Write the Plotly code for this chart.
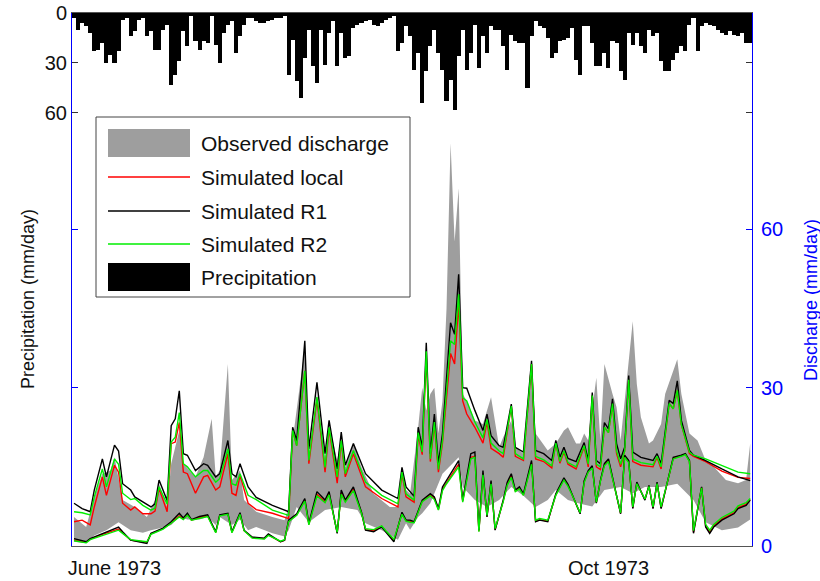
import pandas as pd
import plotly.graph_objects as go

# ---------------- data ----------------
start_date = "1973-05-22"

# daily precipitation (mm/day), one value per day from start_date
precip = [3, 10, 6, 8, 12, 23, 22, 18, 30, 25,
          30, 23, 4, 3, 14, 11, 4, 3, 14, 11,
          22, 22, 10, 7, 43, 37, 29, 11, 20, 2,
          17, 22, 17, 18, 2, 19, 30, 12, 7, 5,
          24, 14, 7, 3, 3, 5, 6, 6, 5, 4,
          3, 3, 2, 37, 16, 41, 51, 27, 10, 32,
          42, 10, 31, 12, 5, 32, 12, 27, 26, 9,
          7, 6, 5, 4, 7, 8, 6, 4, 3, 2,
          23, 18, 8, 14, 34, 24, 54, 35, 20, 10,
          24, 34, 53, 40, 58, 26, 10, 34, 24, 7,
          33, 14, 24, 8, 10, 10, 20, 34, 13, 17,
          18, 18, 45, 14, 5, 8, 9, 15, 27, 24,
          17, 16, 15, 9, 28, 37, 8, 8, 18, 32,
          32, 24, 33, 17, 18, 35, 40, 12, 19, 12,
          20, 24, 10, 14, 12, 29, 35, 35, 28, 24,
          20, 23, 7, 3, 23, 8, 6, 7, 8, 10,
          12, 13, 11, 13, 14, 12, 18, 18]

# upper simulated bounds (mm/day), day offsets from start_date
up_days = [0, 2, 4, 5, 7, 8, 10, 11, 12, 14,
           15, 17, 19, 20, 21, 23, 24, 25, 26, 27,
           28, 30, 32, 33, 35, 36, 38, 39, 40, 41,
           43, 45, 49, 53, 54, 55, 57, 58, 60, 62,
           63, 65, 66, 67, 69, 72, 76, 80, 81, 82,
           84, 85, 86, 87, 88, 89, 90, 91, 93, 94,
           95, 96, 97, 99, 101, 102, 103, 105, 106, 108,
           109, 111, 113, 114, 116, 118, 119, 120, 121, 122,
           124, 126, 127, 128, 129, 130, 131, 132, 133, 134,
           135, 136, 137, 138, 140, 143, 144, 145, 147, 148,
           149, 150, 152, 153, 156, 160, 164, 167]
r1_up = [8.1, 7.1, 6.5, 10.6, 16.5, 13.1, 19.1, 18.0, 11.8, 10.6,
         9.3, 8.4, 7.4, 8.0, 12.5, 8.6, 22.8, 24.1, 29.4, 17.5,
         17.2, 14.3, 15.6, 15.3, 13.1, 13.7, 20.0, 13.7, 13.1, 15.6,
         11.2, 9.2, 7.7, 6.5, 22.5, 20.0, 38.9, 18.4, 31.0, 17.5,
         23.8, 14.6, 21.6, 15.3, 19.4, 13.7, 10.6, 9.0, 14.9, 11.2,
         9.4, 22.5, 18.7, 38.5, 17.5, 25.0, 15.6, 21.3, 42.3, 40.1,
         51.5, 30.0, 29.9, 25.7, 21.9, 25.0, 20.9, 19.0, 18.7, 26.9,
         18.7, 17.8, 35.1, 18.1, 17.5, 16.2, 20.0, 16.8, 18.7, 16.6,
         16.0, 19.6, 16.2, 29.1, 16.2, 15.6, 23.4, 22.2, 27.9, 19.4,
         16.5, 18.7, 32.3, 17.8, 16.8, 16.2, 17.5, 15.6, 27.6, 27.0,
         31.3, 23.8, 18.1, 17.2, 16.2, 14.6, 13.1, 12.4]
r2_up = [6.5, 6.3, 5.9, 9.3, 14.6, 11.2, 16.5, 15.5, 10.0, 8.8,
         9.0, 7.7, 6.8, 7.2, 11.2, 7.9, 19.7, 20.6, 25.3, 15.6,
         15.0, 13.1, 14.3, 14.3, 12.1, 12.8, 18.4, 11.8, 11.5, 13.7,
         9.6, 8.8, 6.8, 5.8, 21.9, 19.0, 33.2, 16.2, 28.2, 14.9,
         22.5, 13.1, 20.0, 13.7, 18.1, 12.1, 9.6, 8.0, 14.0, 9.9,
         8.7, 21.5, 17.8, 36.9, 16.5, 23.5, 14.5, 20.0, 38.9, 38.2,
         47.7, 28.1, 27.5, 23.5, 20.5, 24.0, 19.5, 18.0, 17.5, 26.5,
         17.5, 16.5, 34.5, 17.0, 16.3, 15.2, 19.5, 16.0, 18.0, 15.8,
         15.0, 19.0, 15.5, 28.5, 15.5, 15.0, 22.5, 21.5, 27.0, 18.0,
         15.5, 18.0, 31.5, 16.5, 15.8, 15.4, 17.0, 15.0, 27.0, 26.0,
         29.5, 23.0, 17.8, 17.2, 16.5, 15.2, 14.0, 13.7]
local_up = [4.6, 4.9, 4.0, 7.4, 13.1, 9.6, 15.3, 14.0, 8.1, 6.8,
            7.4, 6.1, 6.1, 6.6, 10.9, 6.5, 19.4, 19.7, 23.4, 14.0,
            13.7, 10.0, 13.1, 13.4, 10.6, 11.2, 17.5, 10.0, 9.6, 13.4,
            8.1, 6.9, 6.2, 5.2, 21.9, 19.0, 33.2, 15.6, 27.8, 14.0,
            22.2, 11.9, 19.7, 13.1, 17.5, 11.2, 9.0, 7.4, 13.7, 9.3,
            8.3, 21.0, 17.3, 36.0, 16.0, 23.0, 14.0, 19.5, 36.5, 34.5,
            46.0, 27.5, 25.0, 22.5, 19.5, 23.5, 18.5, 17.5, 16.8, 26.5,
            17.0, 16.2, 34.5, 16.5, 16.0, 14.8, 19.5, 15.7, 17.8, 15.5,
            14.6, 18.8, 15.0, 28.5, 15.0, 14.5, 22.5, 21.5, 27.0, 17.5,
            15.0, 18.0, 31.5, 16.0, 15.3, 15.0, 16.8, 14.6, 27.0, 26.0,
            29.5, 23.0, 17.5, 17.0, 16.0, 14.2, 13.0, 12.8]

# lower simulated bounds (mm/day)
lo_days = [0, 3, 4, 7, 11, 12, 14, 16, 18, 19,
           22, 24, 26, 27, 28, 29, 31, 33, 35, 36,
           38, 39, 41, 42, 44, 47, 48, 51, 52, 53,
           55, 57, 58, 60, 62, 63, 65, 66, 67, 69,
           71, 72, 74, 76, 77, 79, 81, 82, 83, 84,
           86, 88, 89, 90, 91, 92, 95, 96, 98, 99,
           100, 101, 102, 103, 104, 106, 107, 108, 109, 110,
           111, 113, 114, 115, 117, 119, 121, 122, 123, 125,
           126, 127, 128, 129, 130, 131, 132, 133, 135, 136,
           137, 138, 139, 141, 142, 143, 144, 145, 147, 148,
           150, 151, 152, 153, 155, 156, 157, 158, 160, 163,
           164, 166, 167]
r1_lo = [1.4, 0.8, 1.4, 2.4, 3.6, 2.7, 1.1, 0.8, 0.5, 2.4,
         3.4, 4.6, 6.2, 5.3, 6.2, 5.0, 5.6, 5.9, 2.7, 5.9,
         6.2, 2.7, 6.3, 3.0, 1.7, 1.5, 2.3, 0.8, 1.1, 4.9,
         6.1, 9.0, 4.3, 10.3, 8.7, 10.3, 2.4, 10.6, 8.7, 11.2,
         6.4, 3.0, 2.7, 3.6, 2.7, 0.8, 6.4, 4.9, 4.9, 4.6,
         8.7, 9.9, 9.3, 7.1, 11.2, 12.4, 16.2, 8.7, 17.5, 17.8,
         3.0, 14.3, 5.5, 12.4, 3.0, 8.7, 12.1, 13.7, 10.6, 11.2,
         9.9, 16.2, 4.6, 4.9, 4.6, 9.9, 12.9, 11.7, 9.9, 6.1,
         12.4, 14.3, 15.2, 8.1, 12.4, 15.6, 16.5, 13.1, 6.1, 17.2,
         16.2, 7.1, 12.1, 8.7, 11.5, 7.1, 12.1, 7.1, 13.7, 16.8,
         17.2, 17.5, 16.2, 2.4, 11.2, 3.6, 2.4, 3.6, 4.9, 6.1,
         7.1, 7.7, 8.7]
r2_lo = [1.0, 0.6, 1.2, 2.0, 3.0, 2.4, 1.2, 1.0, 0.8, 2.2,
         3.2, 4.3, 5.5, 5.0, 5.8, 4.9, 5.3, 5.6, 2.5, 5.7,
         6.0, 2.5, 6.0, 2.9, 1.5, 1.3, 2.0, 0.9, 1.2, 4.6,
         5.8, 8.5, 4.0, 9.5, 8.2, 9.7, 2.6, 9.8, 8.3, 10.5,
         6.2, 3.3, 3.1, 3.8, 2.9, 1.3, 6.0, 4.7, 4.5, 4.4,
         8.4, 9.5, 8.8, 6.8, 10.5, 11.8, 15.0, 8.3, 16.5, 16.8,
         2.7, 13.5, 5.8, 11.8, 3.3, 8.4, 11.5, 13.0, 10.3, 10.8,
         9.6, 15.5, 4.9, 5.2, 4.9, 9.6, 12.5, 11.3, 9.7, 6.3,
         12.0, 14.0, 14.8, 8.3, 12.2, 15.2, 16.0, 12.8, 6.3, 16.8,
         15.8, 7.4, 11.8, 8.9, 11.3, 7.4, 11.8, 7.4, 13.4, 16.5,
         17.0, 17.3, 16.0, 2.9, 11.0, 4.1, 3.0, 4.1, 5.4, 6.6,
         7.6, 8.2, 9.0]
local_lo = [1.1, 0.7, 1.3, 2.2, 3.2, 2.5, 1.1, 0.9, 0.7, 2.3,
            3.3, 4.4, 5.7, 5.1, 6.0, 4.9, 5.4, 5.7, 2.6, 5.8,
            6.1, 2.6, 6.1, 2.9, 1.6, 1.4, 2.1, 0.8, 1.1, 4.7,
            5.9, 8.7, 4.1, 9.8, 8.4, 9.9, 2.5, 10.0, 8.5, 10.8,
            6.3, 3.1, 2.9, 3.7, 2.8, 1.0, 6.2, 4.8, 4.7, 4.5,
            8.5, 9.7, 9.0, 6.9, 10.8, 12.0, 15.5, 8.5, 16.8, 17.0,
            2.8, 13.8, 5.6, 12.0, 3.1, 8.5, 11.7, 13.3, 10.4, 11.0,
            9.7, 15.8, 4.7, 5.0, 4.7, 9.7, 12.7, 11.5, 9.8, 6.2,
            12.2, 14.1, 15.0, 8.2, 12.3, 15.4, 16.2, 12.9, 6.2, 17.0,
            16.0, 7.2, 11.9, 8.8, 11.4, 7.2, 11.9, 7.2, 13.5, 16.6,
            17.1, 17.4, 16.1, 2.6, 11.1, 3.8, 2.6, 3.8, 5.1, 6.3,
            7.3, 7.9, 8.8]

# observed discharge band (mm/day)
obs_up_days = [0, 3, 5, 7, 9, 10, 12, 15, 18, 20,
               21, 23, 24, 26, 27, 30, 32, 33, 34, 35,
               36, 38, 39, 41, 42, 45, 49, 52, 53, 54,
               57, 58, 60, 62, 63, 65, 66, 67, 69, 71,
               74, 78, 80, 81, 82, 83, 84, 85, 86, 87,
               88, 89, 90, 91, 92, 93, 94, 95, 96, 97,
               99, 101, 102, 103, 105, 106, 108, 109, 111, 113,
               114, 117, 119, 121, 122, 124, 125, 126, 127, 129,
               130, 131, 133, 134, 135, 138, 139, 140, 142, 143,
               145, 146, 149, 150, 152, 154, 156, 158, 161, 164,
               166, 167]
obs_up = [5.5, 3.6, 9.3, 13.7, 14.3, 16.8, 8.7, 7.4, 5.5, 8.7,
          11.8, 7.4, 15.6, 21.9, 15.6, 13.1, 16.8, 20.6, 24.1, 13.1,
          14.3, 34.5, 12.5, 14.3, 8.7, 6.5, 5.5, 4.9, 7.4, 20.0,
          37.6, 17.5, 28.8, 16.9, 23.1, 16.2, 20.6, 14.9, 19.4, 14.9,
          9.9, 7.4, 7.4, 14.9, 10.6, 9.9, 16.2, 22.5, 30.0, 25.7,
          28.8, 30.0, 21.3, 27.5, 45.0, 76.3, 57.7, 67.8, 28.8, 27.5,
          23.8, 23.1, 25.7, 28.2, 18.7, 20.6, 23.8, 18.7, 17.5, 33.8,
          21.3, 18.1, 19.4, 21.9, 22.5, 19.4, 19.4, 21.3, 20.0, 31.9,
          20.0, 34.5, 28.8, 26.3, 20.0, 42.6, 30.7, 24.4, 19.4, 20.0,
          23.1, 28.8, 35.4, 28.8, 21.3, 20.0, 16.2, 15.0, 12.5, 11.9,
          12.5, 19.4]
obs_lo_days = [0, 3, 5, 8, 11, 14, 17, 19, 22, 24,
               26, 28, 31, 33, 35, 36, 39, 41, 43, 45,
               49, 52, 53, 55, 57, 58, 62, 66, 70, 72,
               76, 80, 82, 83, 85, 86, 88, 91, 95, 96,
               99, 102, 105, 108, 111, 114, 117, 119, 122, 125,
               128, 131, 135, 138, 141, 145, 149, 153, 156, 160,
               164, 167]
obs_lo = [0.8, 0.5, 2.0, 3.0, 4.5, 3.0, 2.5, 3.0, 3.5, 4.0,
          5.5, 5.0, 5.0, 5.5, 4.0, 5.5, 4.0, 5.0, 3.0, 3.6,
          2.4, 1.8, 3.0, 7.4, 5.5, 4.5, 6.8, 7.4, 6.8, 4.3,
          3.0, 1.2, 4.3, 3.1, 5.5, 6.2, 8.1, 13.7, 16.8, 11.2,
          8.7, 7.4, 8.7, 11.2, 9.5, 7.4, 8.7, 10.6, 8.7, 8.0,
          7.5, 10.6, 11.2, 10.0, 11.2, 11.2, 11.8, 8.7, 4.5, 3.0,
          3.5, 5.0]

x_tick_dates = ["1973-06-01", "1973-10-01"]
x_tick_text = ["June 1973", "Oct 1973"]
precip_ticks = [0, 30, 60]
discharge_ticks = [0, 30, 60]

legend_labels = ["Observed discharge", "Simulated local", "Simulated R1",
                 "Simulated R2", "Precipitation"]

# ---------------- figure ----------------
base = pd.Timestamp(start_date)


def dates(days):
    return [base + pd.Timedelta(days=d) for d in days]


W, H = 820, 581
L, R, T, B = 72, 68, 13, 35
PW, PH = W - L - R, H - T - B


def px(x):
    return (x - L) / PW


def py(y):
    return (H - B - y) / PH


FONT = "Arial, Liberation Sans, sans-serif"
GRAY = "#9e9e9e"
RED = "#ff0000"
BLACK = "#000000"
GREEN = "#00ee00"
BLUE = "#0000ff"
TXT = "#111111"

fig = go.Figure()

# precipitation bars (reversed left axis)
fig.add_trace(go.Bar(
    x=dates(range(len(precip))), y=precip, yaxis="y",
    marker=dict(color=BLACK, line=dict(width=0)),
    width=86400000, showlegend=False, hoverinfo="skip"))

# observed band
fig.add_trace(go.Scatter(
    x=dates(obs_up_days + obs_lo_days[::-1]),
    y=obs_up + obs_lo[::-1],
    fill="toself", fillcolor=GRAY, mode="lines", line=dict(width=0),
    yaxis="y2", showlegend=False, hoverinfo="skip"))

lw = 1.4
series = [
    (up_days, local_up, RED), (lo_days, local_lo, RED),
    (up_days, r1_up, BLACK), (lo_days, r1_lo, BLACK),
    (up_days, r2_up, GREEN), (lo_days, r2_lo, GREEN),
]
for dd, vals, col in series:
    fig.add_trace(go.Scatter(
        x=dates(dd), y=vals, mode="lines", line=dict(color=col, width=lw),
        yaxis="y2", showlegend=False, hoverinfo="skip"))

# ---------------- manual legend ----------------
shapes = []
annotations = []
box = dict(x0=96, x1=410, y0=117, y1=297)
shapes.append(dict(type="rect", xref="paper", yref="paper",
                   x0=px(box["x0"]), x1=px(box["x1"]),
                   y0=py(box["y1"]), y1=py(box["y0"]),
                   line=dict(color="#444444", width=1), fillcolor="white",
                   layer="above"))
rows_y = [143, 177, 211, 244, 277]
sx0, sx1 = 108, 190
styles = [("patch", GRAY), ("line", RED), ("line", BLACK), ("line", GREEN),
          ("patch", BLACK)]
for (kind, col), yy, lab in zip(styles, rows_y, legend_labels):
    if kind == "patch":
        shapes.append(dict(type="rect", xref="paper", yref="paper",
                           x0=px(sx0), x1=px(sx1), y0=py(yy + 14), y1=py(yy - 14),
                           line=dict(width=0), fillcolor=col, layer="above"))
    else:
        shapes.append(dict(type="line", xref="paper", yref="paper",
                           x0=px(sx0), x1=px(sx1), y0=py(yy), y1=py(yy),
                           line=dict(color=col, width=1.3), layer="above"))
    annotations.append(dict(xref="paper", yref="paper", x=px(199), y=py(yy),
                            xanchor="left", yanchor="middle", text=lab,
                            showarrow=False,
                            font=dict(family=FONT, size=21, color=TXT)))

# axis titles
annotations.append(dict(xref="paper", yref="paper", x=px(28), y=py(299),
                        text="Precipitation (mm/day)", textangle=-90,
                        showarrow=False, xanchor="center", yanchor="middle",
                        font=dict(family=FONT, size=18, color=TXT)))
annotations.append(dict(xref="paper", yref="paper", x=px(811), y=py(300),
                        text="Discharge (mm/day)", textangle=-90,
                        showarrow=False, xanchor="center", yanchor="middle",
                        font=dict(family=FONT, size=18, color=BLUE)))

fig.update_layout(
    width=W, height=H, autosize=False,
    margin=dict(l=L, r=R, t=T, b=B, pad=0, autoexpand=False),
    paper_bgcolor="white", plot_bgcolor="white",
    showlegend=False, bargap=0,
    font=dict(family=FONT, size=20, color=TXT),
    xaxis=dict(type="date", automargin=False,
               range=[base - pd.Timedelta(hours=12), base + pd.Timedelta(days=167.45)],
               tickvals=x_tick_dates, ticktext=x_tick_text, ticks="",
               ticklabelstandoff=4,
               showline=True, linecolor="#555555", linewidth=1, mirror=True,
               showgrid=False, zeroline=False,
               tickfont=dict(family=FONT, size=20, color=TXT)),
    yaxis=dict(range=[320, 0], tickvals=precip_ticks, ticks="inside", ticklen=6,
               automargin=False,
               tickcolor="#333333", showline=True, linecolor=BLUE, linewidth=1,
               mirror="ticks", showgrid=False, zeroline=False,
               tickfont=dict(family=FONT, size=20, color=TXT)),
    yaxis2=dict(range=[0, 101], tickvals=discharge_ticks, overlaying="y",
                automargin=False, ticklabelstandoff=4,
                side="right", ticks="inside", ticklen=6, tickcolor=BLUE,
                showline=True, linecolor=BLUE, linewidth=1, mirror="ticks",
                showgrid=False, zeroline=False,
                tickfont=dict(family=FONT, size=20, color=BLUE)),
    shapes=shapes, annotations=annotations,
)

fig.write_html("out.html")
